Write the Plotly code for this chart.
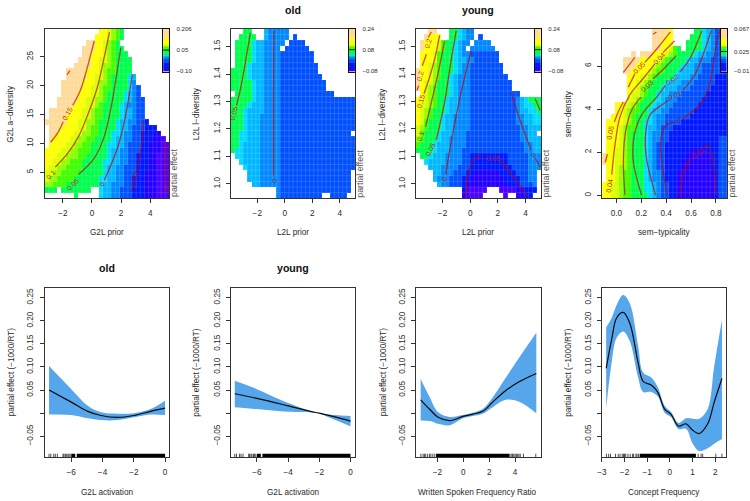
import re
import plotly.graph_objects as go

W, H = 750, 501
LEVEL_CODES = "abcdefghijklmn"
LEVEL_COLORS = ["#4C00FF", "#2400FF", "#0018FF", "#0050FF", "#0088FF", "#00B8FF", "#00DCFF",
                "#00FF4D", "#40FF00", "#90FF00", "#D8FF00", "#FFFF00", "#FFEE50", "#FFDB98"]

RUNS_G2L = [
 "13l 15k 16j 17i 18h 19x", "12l 15k 16j 17i 18h 19x", "10n 12l 14k 15j 16i 17h 18x",
 "9n 12l 14k 15j 16i 17h 19x", "9n 11l 14k 15j 16i 17h 20x", "8n 11l 13k 15j 16i 17h 21x",
 "7n 11l 13k 14j 16i 17h 21x", "5n 10l 13k 14j 15i 17h 21x", "5n 10l 12k 14j 15i 16h 20g 21f 22x",
 "4n 9l 12k 13j 15i 16h 20g 21e 22x", "4n 9l 11k 13j 14i 16h 20g 21e 22d 23x",
 "4n 8l 11k 13j 14i 15h 19g 20f 21e 22d 23x", "3n 8l 10k 12j 14i 15h 19g 20f 21e 22d 24x",
 "3n 7l 10k 12j 13i 14h 18g 19f 20e 22d 24x", "1n 6l 9k 11j 12i 14h 18g 19f 21e 22d 24x",
 "1n 5l 9k 11j 12i 14h 18g 19f 21e 22d 24x", "0n 5l 8k 10j 12i 13h 17g 18f 20e 22d 24c 25x",
 "1n 4l 8k 10j 11i 13h 17g 18f 20e 21d 24c 27x", "1n 3l 7k 9j 11i 13h 16g 18f 19e 21d 23c 26b 28x",
 "1n 2l 6k 8j 10i 12h 16g 17f 19e 21d 23c 26b 28a 29x", "1l 5k 7j 9i 11h 15g 17f 19e 20d 23c 25b 28a",
 "0l 4k 6j 8i 11h 15g 16f 18e 20d 23c 25b 28a", "0l 3k 5j 8i 10h 15g 16f 18e 20d 22c 25b 27a",
 "0l 2k 4j 6i 9h 14g 16f 18e 20d 22c 25b 27a", "0l 1k 3j 5i 9h 14g 15f 17e 19d 22c 25b 27a",
 "0k 2j 4i 8h 14g 15f 17e 19d 22c 24b 27a", "0k 1j 3i 7h 13g 15f 17e 19d 21c 24b 27a",
 "0j 2i 5h 13g 14f 16e 19d 21c 24b 27a", "0h 3x 4h 11x 13g 14f 16e 18d 21c 24b 27a",
 "0x 7h 8x 13g 14f 16e 18d 21c 24b 27a",
]
RUNS_OLD = [
 "3h 5x 8f 9e 14x", "2h 6x 8f 9e 14x 15d 16x", "1h 5g 6f 8e 13x 14d 18x", "1h 5g 6f 8e 12x 13d 19x",
 "1h 5g 6f 8e 12d 20x", "1h 5g 6f 8e 12d 20x", "1h 4g 5f 8e 12d 21x", "0h 4g 5f 8e 12d 21x",
 "0h 4g 5f 8e 12d 22x", "0h 5g 6f 8e 12d 23x", "0h 5g 6f 8e 12d 23x", "1h 5g 6f 8e 12d 25x",
 "0h 5g 6f 8e 12d", "0h 4g 5f 8e 12d", "0h 3g 4f 8e 12d", "0h 3g 4f 7e 12d", "0h 3g 4f 7e 12d",
 "0h 3g 4f 7e 12d", "0h 2g 4f 7e 12d 29x", "0h 2g 4f 7e 12d", "0h 2g 3f 7e 12d", "0h 1g 3f 7e 12d",
 "1g 3f 7e 12d", "2g 3f 7e 12d", "3g 4f 7e 12d", "4f 7e 12d 29x", "4f 7e 12d 29x", "5f 7e 12d 29x",
 "11e 12d 29x", "11e 12d 22x 24d 28x",
]
RUNS_YOUNG = [
 "3n 5x 8h 10g 11f 12e 14x", "2n 3l 6x 8h 10g 11f 12e 14x 15d 16x", "1n 2l 5k 6i 7h 9g 10f 11e 13x 14e 18x",
 "1n 2l 5k 6i 7h 9g 10f 11e 12x 13e 19x", "1l 4k 5i 6h 9g 10f 11e 13d 20x", "1l 4k 5i 6h 9g 10f 12e 14d 20x",
 "1l 3k 4j 5i 6h 9g 10f 11e 13d 21x", "0n 1l 3k 4j 5i 6h 9g 10f 11e 13d 21x", "0n 1l 3k 4j 5i 6h 8g 9f 10e 13d 22x",
 "0n 1l 2k 4j 5h 8g 9f 10e 13d 23x", "0n 1l 2k 3j 4i 5h 8g 9f 10e 13d 23x", "1l 2k 3j 4i 5h 8g 9f 10e 13d 25x",
 "0l 2k 3j 4i 5h 7g 8f 10e 13d 24e 25f 26g 27h", "0l 1k 3j 4i 5h 7g 8f 10e 13d 24e 25f 26g 28h",
 "0l 1k 2j 3i 4h 7g 8f 10e 13d 24e 25f 27g 29h", "0l 1k 2j 3i 4h 6g 7f 9e 13d 24e 26f 28g",
 "0l 1k 2i 3h 6g 7f 9e 13d 24e 26f 28g", "0k 1j 2i 3h 6g 7f 9e 13d 25e 27f", "0k 1i 2h 5g 6f 9e 12d 25e 27f 29x",
 "0j 1i 2h 5g 6f 8e 12d 25e 27f", "0i 1h 4g 5f 8e 12d 26e 28f", "0h 4g 5f 8e 11d 26e 28f",
 "1h 3g 4f 7e 11d 13c 22d 27e", "2g 3f 7e 11d 13c 22d 27e", "3f 6e 10d 13c 23d 27e",
 "4f 6e 9d 12c 14b 20c 24d 27e 29x", "4f 5e 8d 11c 13b 21c 25d 27e 29x", "5f 6e 8d 11c 12b 22c 25d 28e 29x",
 "11c 12a 17x 20a 24b 26c 29x", "11b 12a 16x 21a 22x 24b 26c 28x",
]
RUNS_SEM = [
 "12n 16l 17x 22h 24g 25f 26e 27d", "12n 15l 17x 21h 24g 25f 26e 27d", "12n 14l 17x 20h 24g 25f 26e 27d",
 "12n 14l 16k 17i 18h 19x 20h 24g 25f 26e 27d", "7n 8x 9n 12l 15k 16j 17i 18h 22g 23f 25e 27d",
 "5n 9l 13k 14j 15i 16h 20g 21f 23e 26d", "5n 8l 12k 13j 14i 15h 19g 20f 22e 24d",
 "5n 7l 11k 12j 13i 15h 18g 19f 22e 24d", "6l 9k 11j 12i 13h 17g 18f 21e 23d 27c",
 "6l 8k 10j 11i 12h 15g 16f 19e 22d 27c", "6l 8k 9j 10i 11h 14g 15f 18e 21d 26c",
 "6l 7k 9j 10i 11h 13g 14f 16e 19d 25c", "6k 8j 9i 10h 13g 14f 15e 18d 24c",
 "3l 5k 7j 8i 9h 12g 13f 15e 17d 23c", "3l 5k 6j 7i 9h 11g 12f 14e 16d 22c",
 "2l 5k 6j 7i 8h 11g 12f 13e 15d 21c", "1l 5k 6j 7i 8h 10g 12f 13e 15d 19c",
 "1l 4k 5j 6i 8h 10g 11f 13e 14d 17c", "1l 4k 5j 6i 7h 10g 11f 12e 14d 16c",
 "1l 4k 5j 6i 7h 10g 11f 12e 14d 16c 28d", "1l 4k 5j 6i 7h 10g 11f 12e 13d 15c 28d",
 "1l 3k 5j 6i 7h 10g 11f 12e 13d 15c 21b 25c 28d", "0n 1l 3k 5j 6i 7h 10g 11f 12e 13d 15c 20b 26c 28d",
 "0n 1l 3k 5j 6i 7h 10g 11f 12e 13d 15c 19b 26c 28d", "1l 3k 4j 6i 7h 10g 11f 12e 13d 15c 19b 26c 28d",
 "1l 3k 4j 5i 7h 10g 11f 12e 14d 15c 18b 27c 28d", "1l 3k 4j 5i 7h 10g 11f 12e 14d 15c 18b 27c 28d",
 "0l 2k 4j 5i 7h 10g 12f 13e 14d 16c 18b 27c 28d", "0l 2k 4j 5i 7h 10g 12f 13e 14d 16c 18b 27c 28d",
 "0l 2k 4j 5i 7h 11g 12f 13e 14d 16c 18b 27c 28d",
]

CONT_G2L = [
 ([-1.70, -1.52], [21.9, 22.6]),
 ([-2.84, -2.34, -1.98], [10.2, 11.86, 13.74]),
 ([-1.32, -0.80, -0.41, -0.11, 0.16], [16.6, 19.17, 22.3, 25.17, 27.74]),
 ([-2.52, -1.66, -0.93, -0.30, 0.34, 0.84, 1.20], [5.91, 8.31, 11.17, 14.89, 19.46, 24.89, 29.29]),
 ([-0.93, 0.16, 0.84, 1.34, 1.70, 1.98], [4.6, 7.46, 11.17, 16.6, 22.03, 26.6]),
 ([0.84, 1.75, 2.32, 2.77], [3.63, 9.17, 14.89, 21.9]),
 ([2.73, 2.82], [1.63, 2.6]),
 ([3.02, 3.34, 3.57], [4.89, 8.6, 14.03]),
 ([5.05, 5.05], [10.3, 3.2]),
 ([5.07, 5.07], [2.0, 1.45]),
]
LABELS_G2L = [("0.15", -1.66, 15.1, -60), ("0.1", -2.8, 4.6, -45), ("0.05", -1.32, 2.9, -45),
              ("0", 0.68, 2.9, -60), ("-0.05", 2.9, 3.6, -80), ("-0.1", 5.07, 2.6, -90)]
CONT_OLD = [
 ([-3.51, -3.22, -2.91, -2.5], [1.286, 1.346, 1.430, 1.55]),
 ([-0.79, -0.82, -0.82], [1.557, 1.3, 1.03]),
]
LABELS_OLD = [("0.05", -3.66, 1.258, -75), ("0", -0.8, 1.01, -90)]
CONT_YOUNG = [
 ([-2.81, -3.03], [1.553, 1.533]),
 ([-3.17, -3.46], [1.472, 1.430]),
 ([-3.73, -3.85], [1.358, 1.340]),
 ([-2.21, -2.57, -2.98, -3.34], [1.541, 1.454, 1.382, 1.328]),
 ([-1.85, -2.26, -2.69, -3.22], [1.520, 1.418, 1.322, 1.208]),
 ([-1.01, -1.44, -1.85, -2.45], [1.557, 1.430, 1.298, 1.160]),
 ([0.07, -0.65, -1.37, -1.78], [1.484, 1.334, 1.154, 1.034]),
 ([-0.34, -0.10, 0.24, 0.87], [0.956, 1.046, 1.088, 1.102]),
 ([2.24, 3.08, 4.16], [1.084, 1.028, 0.956]),
 ([2.96, 3.56, 4.40], [1.332, 1.238, 1.124]),
 ([4.71, 5.05], [1.094, 1.061]),
 ([4.71, 5.05], [1.310, 1.268]),
]
LABELS_YOUNG = [("0.2", -3.05, 1.512, -75), ("0.2", -3.65, 1.392, -75), ("0.15", -3.58, 1.30, -75),
                ("0.1", -3.58, 1.172, -75), ("0.05", -2.86, 1.124, -65), ("0", -1.85, 1.016, -70),
                ("-0.05", 1.56, 1.091, 0), ("0", 4.57, 1.108, -55)]
CONT_SEM = [
 ([.056, .149], [5.71, 6.40]),
 ([.295, .322], [7.47, 7.58]),
 ([.096, .149], [5.02, 5.64]),
 ([.229, .335, .434], [6.17, 6.86, 7.58]),
 ([-.037, -.011, .029, .109, .202, .309], [.96, 2.34, 3.64, 4.67, 5.33, 6.09]),
 ([.375, .468], [6.63, 7.17]),
 ([.069, .056, .074, .122, .197], [.015, 1.58, 2.96, 3.95, 4.56]),
 ([.295, .388, .481], [5.41, 5.91, 6.48]),
 ([.202, .136, .144, .202, .335, .394], [.015, 1.58, 2.80, 3.72, 4.64, 5.10]),
 ([.508, .588, .686], [5.71, 6.32, 7.63]),
 ([.314, .242, .234, .269, .362, .420], [.015, 1.73, 2.80, 3.72, 4.18, 4.41]),
 ([.535, .628, .694, .761], [4.87, 5.56, 6.48, 7.63]),
 ([.410, .362, .362, .402, .468], [.015, 1.73, 2.80, 3.26, 3.41]),
 ([.535, .668, .747, .801, .827], [3.57, 4.18, 5.10, 6.94, 7.63]),
 ([.513, .535, .588], [-.03, .965, 1.65]),
 ([.694, .734, .774, .801], [2.19, 2.31, 1.73, .015]),
 ([-.090, -.072], [1.53, 1.91]),
 ([-.016, .021, .056], [3.41, 3.95, 4.33]),
]
LABELS_SEM = [("0.05", .184, 5.94, -45), ("0.04", .343, 6.37, -45), ("0.03", .25, 5.10, -45),
              ("0.02", .447, 5.38, -35), ("0.01", .468, 4.64, -20), ("0", .50, 3.46, -10),
              ("-0.01", .649, 1.96, -35), ("0.05", -.05, 2.92, -80), ("0.04", -.056, .47, -80)]

ACT_X_OLD = [-7.42, -6.0, -4.94, -4.10, -3.04, -1.99, -0.93, 0.0]
ACT_FIT_OLD = [0.050, 0.024, 0.004, -0.005, -0.009, -0.005, 0.004, 0.011]
ACT_HI_OLD = [0.102, 0.052, 0.016, 0.002, -0.001, 0.0, 0.009, 0.027]
ACT_LO_OLD = [-0.003, -0.004, -0.011, -0.015, -0.015, -0.009, -0.003, -0.004]
ACT_X_YOUNG = [-7.42, -6.0, -4.0, -2.3, -2.0, -1.0, 0.0]
ACT_FIT_YOUNG = [0.042, 0.032, 0.016, 0.002, 0.0, -0.008, -0.017]
ACT_HI_YOUNG = [0.070, 0.052, 0.022, 0.002, 0.0, -0.004, -0.006]
ACT_LO_YOUNG = [0.013, 0.009, 0.003, 0.001, -0.001, -0.014, -0.028]
WS_X = [-3.29, -2.58, -1.94, -1.05, -0.03, 0.74, 1.50, 2.27, 3.29, 4.31, 5.64]
WS_FIT = [0.029, 0.008, -0.009, -0.016, -0.007, -0.002, 0.004, 0.024, 0.049, 0.068, 0.086]
WS_HI = [0.074, 0.034, 0.002, -0.008, -0.004, 0.001, 0.009, 0.034, 0.077, 0.120, 0.174]
WS_LO = [-0.016, -0.017, -0.023, -0.026, -0.011, -0.006, -0.001, 0.013, 0.029, 0.025, 0.0]
CF_X = [-2.81, -2.57, -2.35, -2.06, -1.77, -1.40, -1.18, -0.82, -0.53, -0.23, 0.06, 0.38, 0.72, 1.01, 1.30, 1.67, 1.96, 2.30]
CF_FIT = [.097, .159, .206, .218, .195, .109, .069, .061, .045, .009, -.003, -.028, -.023, -.037, -.044, -.023, .024, .075]
CF_HI = [.186, .206, .234, .256, .238, .145, .088, .077, .056, .016, .002, -.021, -.011, -.012, -.012, .009, .102, .202]
CF_LO = [.011, .109, .163, .177, .156, .077, .046, .046, .036, .001, -.009, -.034, -.034, -.066, -.082, -.076, -.066, -.056]

RUG_ACT = [-7.42, -7.31, -7.12, -7.02, -6.89, -6.53, -6.47, -6.38, -6.32, -6.22, -6.15, -6.07]
RUG_ACT_DENSE = [(-6.0, -5.75), (-5.65, 0.0)]
RUG_WS = [-3.27, -3.1, -3.0, -2.9, -2.75, -2.6, -2.5, -2.35, -2.2, 3.6, 3.7, 3.8, 3.9, 4.0, 4.1, 4.2, 4.3, 4.4, 4.65, 5.6]
RUG_WS_DENSE = [(-2.1, 3.55)]
RUG_CF = [-2.8, -2.7, -2.62, -2.4, -2.28, -2.2, -2.1, -2.05, -2.0, -1.95, -1.85, -1.75, -1.65, -1.6, -1.5, -1.45, -1.38, 1.25, 1.38, 1.45, 2.03, 2.3]
RUG_CF_DENSE = [(-1.33, 1.15)]

COLORBAR_LEVELS = list("nnnnnnmllllkjihhhhgfedddccccba")
Y_TICKS_EFFECT = [-0.05, 0.0, 0.05, 0.10, 0.15, 0.20, 0.25]
Y_TICKTEXT_EFFECT = ["−0.05", "", "0.05", "0.10", "0.15", "0.20", "0.25"]

TOP_PANELS = [
 dict(px=(40, 165.7), xr=(-3.25, 5.32), yr=(0.49, 29.86), runs=RUNS_G2L, cont=CONT_G2L, labels=LABELS_G2L,
      xt=[-2, 0, 2, 4], xtt=["−2", "0", "2", "4"], yt=[5, 10, 15, 20, 25], ytt=["5", "10", "15", "20", "25"],
      xtitle="G2L prior", ytitle="G2L a−diversity", ytx=6, cb=(0.206, 0.05, -0.10, -0.107), cbt=["0.206", "0.05", "−0.10"]),
 dict(px=(227.7, 353), xr=(-3.92, 5.12), yr=(0.947, 1.565), runs=RUNS_OLD, cont=CONT_OLD, labels=LABELS_OLD,
      xt=[-2, 0, 2, 4], xtt=["−2", "0", "2", "4"], yt=[1.0, 1.1, 1.2, 1.3, 1.4, 1.5], ytt=["1.0", "1.1", "1.2", "1.3", "1.4", "1.5"],
      xtitle="L2L prior", ytitle="L2L l−diversity", ytx=193, cb=(0.24, 0.08, -0.08, -0.088), cbt=["0.24", "0.08", "−0.08"]),
 dict(px=(414.3, 540.3), xr=(-3.92, 5.12), yr=(0.947, 1.565), runs=RUNS_YOUNG, cont=CONT_YOUNG, labels=LABELS_YOUNG,
      xt=[-2, 0, 2, 4], xtt=["−2", "0", "2", "4"], yt=[1.0, 1.1, 1.2, 1.3, 1.4, 1.5], ytt=["1.0", "1.1", "1.2", "1.3", "1.4", "1.5"],
      xtitle="L2L prior", ytitle="L2L l−diversity", ytx=381, cb=(0.24, 0.08, -0.08, -0.088), cbt=["0.24", "0.08", "−0.08"]),
 dict(px=(602, 727.7), xr=(-0.114, 0.888), yr=(-0.138, 7.73), runs=RUNS_SEM, cont=CONT_SEM, labels=LABELS_SEM,
      xt=[0, 0.2, 0.4, 0.6, 0.8], xtt=["0.0", "0.2", "0.4", "0.6", "0.8"], yt=[0, 2, 4, 6], ytt=["0", "2", "4", "6"],
      xtitle="sem−typicality", ytitle="sem−density", ytx=568, cb=(0.067, 0.025, -0.01, -0.012), cbt=["0.067", "0.025", "−0.01"]),
]
BOTTOM_PANELS = [
 dict(px=(40, 165.7), xr=(-7.70, 0.275), xs=ACT_X_OLD, fit=ACT_FIT_OLD, hi=ACT_HI_OLD, lo=ACT_LO_OLD, rug=RUG_ACT, dense=RUG_ACT_DENSE,
      xt=[-6, -4, -2, 0], xtt=["−6", "−4", "−2", "0"], xtitle="G2L activation", ytx=6),
 dict(px=(227.7, 353), xr=(-7.67, 0.30), xs=ACT_X_YOUNG, fit=ACT_FIT_YOUNG, hi=ACT_HI_YOUNG, lo=ACT_LO_YOUNG, rug=RUG_ACT, dense=RUG_ACT_DENSE,
      xt=[-6, -4, -2, 0], xtt=["−6", "−4", "−2", "0"], xtitle="G2L activation", ytx=193),
 dict(px=(414.3, 540.3), xr=(-3.65, 6.0), xs=WS_X, fit=WS_FIT, hi=WS_HI, lo=WS_LO, rug=RUG_WS, dense=RUG_WS_DENSE,
      xt=[-2, 0, 2, 4], xtt=["−2", "0", "2", "4"], xtitle="Written Spoken Frequency Ratio", ytx=381),
 dict(px=(601.7, 727.3), xr=(-3.0, 2.5), xs=CF_X, fit=CF_FIT, hi=CF_HI, lo=CF_LO, rug=RUG_CF, dense=RUG_CF_DENSE,
      xt=[-3, -2, -1, 0, 1, 2], xtt=["−3", "−2", "−1", "0", "1", "2"], xtitle="Concept Frequency", ytx=568),
]
TITLES = [("old", 290, 7), ("young", 477, 7), ("old", 103, 268), ("young", 290, 268)]

TOP_Y = (26, 197.3)
BOT_Y = (288.3, 459)
BOT_YR = (-0.0957, 0.27)
FONT = "Liberation Sans, Arial, sans-serif"
TEXT = "#2a2a2a"
AX = "#333333"
CONTOUR = "rgba(195,0,0,0.68)"
BAND = "#56A6EC"


def decode(runs):
    out = []
    for row in runs:
        cells = [None] * 30
        toks = re.findall(r"(\d+)([a-nx])", row)
        for i, (c, lv) in enumerate(toks):
            end = int(toks[i + 1][0]) if i + 1 < len(toks) else 30
            if lv != "x":
                for k in range(int(c), end):
                    cells[k] = LEVEL_CODES.index(lv)
        out.append(cells)
    return out


colorscale = [[i / (len(LEVEL_COLORS) - 1), c] for i, c in enumerate(LEVEL_COLORS)]
fig = go.Figure()
layout = dict(width=W, height=H, margin=dict(l=0, r=0, t=0, b=0), autosize=False, showlegend=False,
              paper_bgcolor="white", plot_bgcolor="white", annotations=[],
              font=dict(family=FONT, size=8, color=TEXT))
n_ax = [0]


def note(text, x, y, size=8.2, angle=0, color=TEXT, bold=False):
    layout["annotations"].append(dict(text=f"<b>{text}</b>" if bold else text, x=x / W, y=1 - y / H, xref="paper", yref="paper",
                                      showarrow=False, font=dict(size=size, color=color, family=FONT), textangle=angle,
                                      xanchor="center", yanchor="middle"))


def axes(px, py, xr, yr, xt, xtt, yt, ytt):
    n_ax[0] += 1
    k = n_ax[0]
    common = dict(showgrid=False, zeroline=False, ticks="outside", ticklen=4, tickwidth=1, tickcolor=AX,
                  linecolor=AX, linewidth=1, mirror=True, showline=True,
                  tickfont=dict(size=8.2, color=TEXT, family=FONT))
    layout[f"xaxis{k}"] = dict(domain=[px[0] / W, px[1] / W], range=list(xr), anchor=f"y{k}", tickvals=xt,
                               ticktext=xtt, tickangle=0, ticklabelstandoff=3, **common)
    layout[f"yaxis{k}"] = dict(domain=[1 - py[1] / H, 1 - py[0] / H], range=list(yr), anchor=f"x{k}", tickvals=yt,
                               ticktext=ytt, tickangle=-90, ticklabelstandoff=3, **common)
    return f"x{k}", f"y{k}"


for p in TOP_PANELS:
    xa, ya = axes(p["px"], TOP_Y, p["xr"], p["yr"], p["xt"], p["xtt"], p["yt"], p["ytt"])
    dx = (p["xr"][1] - p["xr"][0]) / 30
    dy = (p["yr"][1] - p["yr"][0]) / 30
    xs = [p["xr"][0] + dx * (i + .5) for i in range(30)]
    ys = [p["yr"][1] - dy * (i + .5) for i in range(30)]
    fig.add_trace(go.Heatmap(x=xs, y=ys, z=decode(p["runs"]), colorscale=colorscale, zmin=0, zmax=len(LEVEL_COLORS) - 1,
                             showscale=False, xaxis=xa, yaxis=ya, hoverinfo="skip"))
    gx, gy = [], []
    for i in range(1, 30):
        gx += [p["xr"][0] + dx * i] * 2 + [None]
        gy += [p["yr"][0], p["yr"][1], None]
        gx += [p["xr"][0], p["xr"][1], None]
        gy += [p["yr"][0] + dy * i] * 2 + [None]
    fig.add_trace(go.Scatter(x=gx, y=gy, mode="lines", line=dict(color="rgba(255,255,255,0.2)", width=0.7), xaxis=xa, yaxis=ya, hoverinfo="skip"))
    for cx, cy in p["cont"]:
        fig.add_trace(go.Scatter(x=cx, y=cy, mode="lines", line=dict(color=CONTOUR, width=1.3, shape="spline"), xaxis=xa, yaxis=ya, hoverinfo="skip"))
    for txt, lx, ly, ang in p["labels"]:
        layout["annotations"].append(dict(text=txt, x=lx, y=ly, xref=xa, yref=ya, showarrow=False, textangle=ang,
                                          font=dict(size=7, color="rgba(190,10,10,0.9)", family=FONT)))
    # key
    top, mid, bot, low = p["cb"]
    xc, yc = axes((p["px"][1] - 6.3, p["px"][1]), (26, 69.3), (0, 1), (low, top), [], [], [top, mid, bot], p["cbt"])
    k = n_ax[0]
    layout[f"yaxis{k}"].update(side="right", ticks="", tickangle=0, ticklabelstandoff=5, tickfont=dict(size=6, color=TEXT, family=FONT), linecolor="#111111")
    layout[f"xaxis{k}"].update(ticks="", showticklabels=False, linecolor="#111111")
    n = len(COLORBAR_LEVELS)
    cby = [top - (top - low) * (i + .5) / n for i in range(n)]
    fig.add_trace(go.Heatmap(x=[0.5], y=cby, z=[[LEVEL_CODES.index(c)] for c in COLORBAR_LEVELS], colorscale=colorscale,
                             zmin=0, zmax=len(LEVEL_COLORS) - 1, showscale=False, xaxis=xc, yaxis=yc, hoverinfo="skip"))
    fig.add_trace(go.Scatter(x=[0, 1], y=[mid, mid], mode="lines", line=dict(color="#222222", width=1), xaxis=xc, yaxis=yc, hoverinfo="skip"))
    note(p["xtitle"], (p["px"][0] + p["px"][1]) / 2 - 0.5, 232)
    note(p["ytitle"], p["ytx"], 112, angle=-90)
    note("partial effect", p["px"][1] + 5.3, 172, size=8.8, angle=-90, color="#555555")

for p in BOTTOM_PANELS:
    xa, ya = axes(p["px"], BOT_Y, p["xr"], BOT_YR, p["xt"], p["xtt"], Y_TICKS_EFFECT, Y_TICKTEXT_EFFECT)
    fig.add_trace(go.Scatter(x=p["xs"], y=p["lo"], mode="lines", line=dict(color=BAND, width=0, shape="spline"), xaxis=xa, yaxis=ya, hoverinfo="skip"))
    fig.add_trace(go.Scatter(x=p["xs"], y=p["hi"], mode="lines", line=dict(color=BAND, width=0, shape="spline"), fill="tonexty",
                             fillcolor=BAND, xaxis=xa, yaxis=ya, hoverinfo="skip"))
    fig.add_trace(go.Scatter(x=p["xs"], y=p["fit"], mode="lines", line=dict(color="#0a0a0a", width=1.2, shape="spline"), xaxis=xa, yaxis=ya, hoverinfo="skip"))
    rug_top = BOT_YR[0] + 0.008
    rx, ry = [], []
    for v in p["rug"]:
        rx += [v, v, None]
        ry += [BOT_YR[0], rug_top, None]
    fig.add_trace(go.Scatter(x=rx, y=ry, mode="lines", line=dict(color="black", width=0.7), xaxis=xa, yaxis=ya, hoverinfo="skip"))
    for a, b in p["dense"]:
        fig.add_trace(go.Scatter(x=[a, b, b, a, a], y=[BOT_YR[0], BOT_YR[0], rug_top, rug_top, BOT_YR[0]], mode="lines",
                                 line=dict(color="black", width=0), fill="toself", fillcolor="black", xaxis=xa, yaxis=ya, hoverinfo="skip"))
    note(p["xtitle"], (p["px"][0] + p["px"][1]) / 2 - 0.5, 494)
    note("partial effect (−1000/RT)", p["ytx"], 373, angle=-90)

for txt, x, y in TITLES:
    note(txt, x, y, size=10.6, color="#111111", bold=True)

fig.update_layout(**layout)
fig.write_html("out.html", config=dict(displayModeBar=False), post_script="document.body.style.margin='0';")
